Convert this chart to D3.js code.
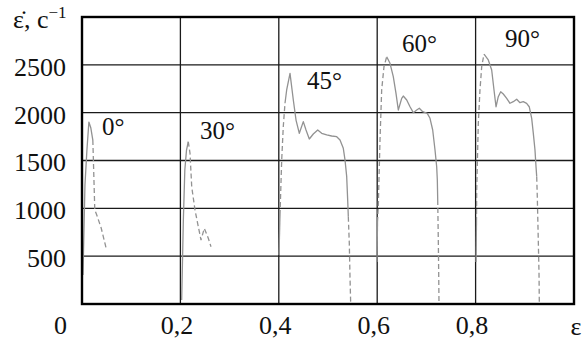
<!DOCTYPE html>
<html>
<head>
<meta charset="utf-8">
<script src="https://cdn.jsdelivr.net/npm/d3@7"></script>
<style>
  body { margin: 0; background: #fff; }
  svg text { font-family: "Liberation Serif", "Times New Roman", serif; fill: #111; }
</style>
</head>
<body>
<script>
// strain rate vs strain, five orientations

var xTicks = [0, 0.2, 0.4, 0.6, 0.8];
var xTickLabels = ["0", "0,2", "0,4", "0,6", "0,8"];
var yTicks = [500, 1000, 1500, 2000, 2500];

// 0 deg
var c0Solid = [[0.002, 303], [0.004, 773], [0.006, 1244], [0.010, 1609], [0.014, 1902], [0.018, 1839], [0.022, 1714]];
var c0Dash = [[0.022, 1714], [0.024, 1348], [0.026, 982], [0.030, 930], [0.039, 794], [0.049, 585]];

// 30 deg
var c30Solid = [[0.2026, 42], [0.2043, 460], [0.206, 878], [0.209, 1400], [0.2124, 1609], [0.216, 1696]];
var c30Dash = [[0.216, 1696], [0.2195, 1578], [0.223, 1226], [0.2297, 982], [0.2364, 808], [0.2419, 669],
               [0.2486, 791], [0.2567, 687], [0.2622, 599]];

// 45 deg
var c45Start = [[0.4004, 512], [0.4024, 930]];
var c45Rise = [[0.4024, 930], [0.4059, 1505], [0.4091, 1853], [0.4126, 2098]];
var c45Main = [[0.4126, 2098], [0.416, 2237], [0.4228, 2411], [0.4295, 2132], [0.435, 1923], [0.4417, 1784],
               [0.4498, 1906], [0.4553, 1819], [0.462, 1725], [0.4701, 1777], [0.4791, 1819], [0.4872, 1784],
               [0.4974, 1767], [0.5075, 1756], [0.5177, 1749], [0.5244, 1714], [0.5311, 1627], [0.5346, 1505],
               [0.538, 1331], [0.54, 1087], [0.5413, 913]];
var c45Tail = [[0.5413, 913], [0.5433, 634], [0.5447, 285], [0.5461, 7]];

// 60 deg
var c60Start = [[0.5996, 439], [0.6006, 857]];
var c60Rise = [[0.6006, 857], [0.6022, 1017], [0.6057, 1714], [0.6091, 2237], [0.6138, 2481], [0.6193, 2585]];
var c60Main = [[0.6193, 2585], [0.626, 2516], [0.6327, 2376], [0.6382, 2202], [0.6429, 2028], [0.6498, 2150],
               [0.653, 2174], [0.66, 2132], [0.6667, 2062], [0.6734, 2000], [0.6803, 2028], [0.6856, 2046],
               [0.6925, 2010], [0.7018, 1993], [0.7073, 1941], [0.7128, 1819], [0.7175, 1610], [0.7209, 1435],
               [0.7222, 1296], [0.723, 1087]];
var c60Tail = [[0.723, 1087], [0.7242, 669], [0.725, 321], [0.7256, 7]];

// 90 deg
var c90Start = [[0.8008, 439], [0.8018, 857]];
var c90Rise = [[0.8018, 857], [0.8022, 1192], [0.8055, 1889], [0.8089, 2237], [0.8124, 2481], [0.8171, 2613]];
var c90Main = [[0.8171, 2613], [0.8258, 2551], [0.8327, 2446], [0.8374, 2237], [0.8415, 2062], [0.8461, 2167],
               [0.851, 2219], [0.8563, 2195], [0.8632, 2150], [0.8699, 2098], [0.8766, 2115], [0.8835, 2140],
               [0.8902, 2104], [0.8969, 2115], [0.9037, 2098], [0.909, 2062], [0.914, 1941], [0.9173, 1784],
               [0.9207, 1610], [0.9228, 1435], [0.9242, 1331]];
var c90Tail = [[0.9242, 1331], [0.9254, 1122], [0.9274, 669], [0.9289, 321], [0.9295, 7]];

var angleLabels = ["0°", "30°", "45°", "60°", "90°"];
var labelEps = [0.0407, 0.2398, 0.4573, 0.6504, 0.8598];
var labelRate = [1767, 1725, 2247, 2634, 2686];

var solidParts = [c0Solid, c30Solid, c45Start, c45Main, c60Start, c60Main, c90Start, c90Main];
var dashedParts = [c0Dash, c30Dash, c45Rise, c45Tail, c60Rise, c60Tail, c90Rise, c90Tail];

var W = 582, H = 345;
var plotL = 82, plotR = 574, plotT = 17, plotB = 304;
var serif = "'Liberation Serif', 'Times New Roman', serif";

var x = d3.scaleLinear().domain([0, 1]).range([plotL, plotR]);
var y = d3.scaleLinear().domain([0, 3000]).range([plotB, plotT]);

var svg = d3.select("body").append("svg")
    .attr("width", W)
    .attr("height", H);

// grid
svg.append("g").selectAll("line")
    .data(xTicks.slice(1))
    .enter().append("line")
    .attr("x1", function(d) { return x(d); })
    .attr("x2", function(d) { return x(d); })
    .attr("y1", plotT)
    .attr("y2", plotB)
    .attr("stroke", "#1a1a1a")
    .attr("stroke-width", 1.3);

svg.append("g").selectAll("line")
    .data(yTicks)
    .enter().append("line")
    .attr("x1", plotL)
    .attr("x2", plotR)
    .attr("y1", function(d) { return y(d); })
    .attr("y2", function(d) { return y(d); })
    .attr("stroke", "#1a1a1a")
    .attr("stroke-width", 1.3);

// curves
var line = d3.line()
    .x(function(d) { return x(d[0]); })
    .y(function(d) { return y(d[1]); });

svg.append("g").selectAll("path")
    .data(solidParts)
    .enter().append("path")
    .attr("d", line)
    .attr("fill", "none")
    .attr("stroke", "#929292")
    .attr("stroke-width", 1.3)
    .attr("stroke-linejoin", "round");

svg.append("g").selectAll("path")
    .data(dashedParts)
    .enter().append("path")
    .attr("d", line)
    .attr("fill", "none")
    .attr("stroke", "#929292")
    .attr("stroke-width", 1.3)
    .attr("stroke-dasharray", "5,3");

// frame
svg.append("rect")
    .attr("x", plotL)
    .attr("y", plotT)
    .attr("width", plotR - plotL)
    .attr("height", plotB - plotT)
    .attr("fill", "none")
    .attr("stroke", "#000")
    .attr("stroke-width", 2.4);

// y axis labels
var yAxis = d3.axisLeft(y).tickValues(yTicks).tickFormat(d3.format("d"))
    .tickSize(0).tickPadding(16);
var gy = svg.append("g")
    .attr("transform", "translate(" + plotL + ",0)")
    .call(yAxis);
gy.attr("font-family", null).attr("font-size", null);
gy.select(".domain").remove();
gy.selectAll("text")
    .attr("dy", "0.4em")
    .style("font-size", "26px")
    .style("font-family", serif);

// x axis labels
var xAxis = d3.axisBottom(x).tickValues(xTicks)
    .tickFormat(function(d, i) { return xTickLabels[i]; })
    .tickSize(0).tickPadding(12);
var gx = svg.append("g")
    .attr("transform", "translate(0," + plotB + ")")
    .call(xAxis);
gx.attr("font-family", null).attr("font-size", null);
gx.select(".domain").remove();
gx.selectAll("text")
    .style("font-size", "26px")
    .style("font-family", serif)
    .attr("dx", function(d) { return d === 0 ? -22 : -4; });

svg.append("text")
    .attr("x", 576)
    .attr("y", 335)
    .attr("text-anchor", "middle")
    .style("font-size", "26px")
    .style("font-family", serif)
    .text("ε");

// y title
var yt = svg.append("text")
    .attr("x", 13)
    .attr("y", 28)
    .style("font-size", "26px")
    .style("font-family", serif);
yt.append("tspan").text("ε\u0307, c");
yt.append("tspan").attr("dy", -10).style("font-size", "17px").text("\u22121");

// angle labels
svg.append("g").selectAll("text")
    .data(angleLabels)
    .enter().append("text")
    .attr("x", function(d, i) { return x(labelEps[i]); })
    .attr("y", function(d, i) { return y(labelRate[i]); })
    .style("font-size", "25px")
    .style("font-family", serif)
    .text(function(d) { return d; });
</script>
</body>
</html>
